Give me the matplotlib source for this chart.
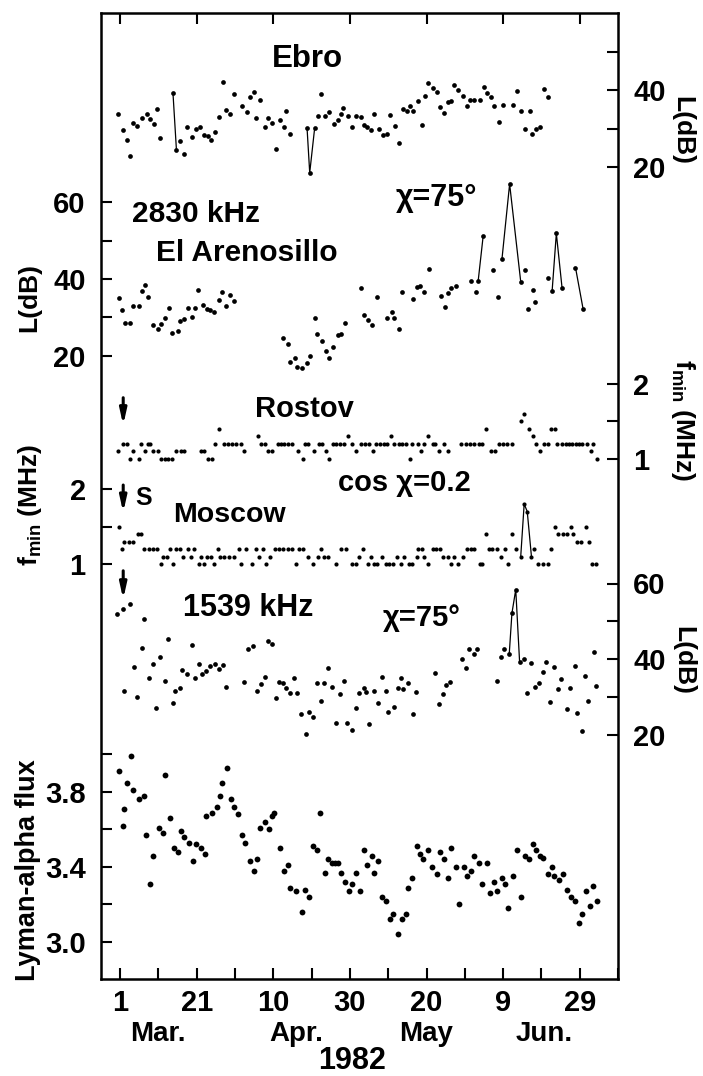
import matplotlib.pyplot as plt
from matplotlib.ticker import MultipleLocator

# days counted from 1 March 1982
ebro_day = [-0.6, 0.8, 1.7, 2.7, 3.4, 4.4, 5.6, 6.9, 7.9, 8.8,
            9.7, 10.5, 13.8, 14.7, 15.6, 16.6, 17.5, 18.8, 19.9, 20.8,
            22.0, 23.0, 23.8, 24.7, 25.7, 26.9, 27.7, 28.8, 29.7, 31.8,
            33.0, 33.8, 34.9, 35.6, 36.6, 37.7, 38.6, 39.7, 40.8, 41.7,
            42.7, 43.4, 44.4, 48.8, 49.5, 50.8, 51.6, 52.5, 53.6, 54.6,
            55.9, 56.8, 57.7, 58.3, 59.5, 60.5, 61.7, 62.9, 63.6, 64.4,
            65.5, 66.4, 67.5, 68.6, 69.7, 70.5, 71.7, 72.7, 73.8, 74.9,
            75.7, 76.6, 77.7, 78.8, 79.5, 80.5, 81.7, 82.7, 83.6, 84.6,
            85.5, 86.3, 87.2, 88.3, 89.5, 90.5, 91.4, 92.4, 94.0, 94.9,
            95.9, 96.8, 97.7, 98.8, 99.9, 102.7, 103.7, 104.6, 105.7, 106.9,
            107.5, 108.6, 109.7, 110.7, 111.8]
ebro_db = [33.7, 29.6, 27.0, 22.9, 31.5, 30.6, 32.6, 33.7, 32.5, 31.1,
           35.0, 27.6, 39.1, 24.4, 26.8, 23.3, 30.5, 27.9, 30.0, 30.5,
           28.3, 28.1, 27.0, 29.0, 32.9, 42.2, 34.8, 33.7, 38.9, 35.8,
           34.2, 38.1, 39.4, 32.7, 37.4, 30.5, 32.7, 31.3, 24.7, 32.2,
           30.5, 34.6, 28.7, 30.2, 18.5, 30.2, 33.2, 39.0, 33.3, 34.2,
           31.1, 32.2, 33.7, 35.4, 33.3, 30.5, 33.3, 33.1, 30.9, 30.5,
           29.6, 33.8, 30.0, 28.3, 28.5, 33.5, 30.6, 26.3, 35.0, 34.6,
           35.8, 34.5, 37.2, 30.9, 38.5, 41.7, 40.4, 39.6, 35.5, 33.9,
           37.0, 37.1, 41.3, 40.0, 38.4, 35.8, 37.4, 37.4, 37.4, 40.7,
           39.1, 38.1, 35.9, 31.8, 36.1, 36.1, 39.8, 34.6, 29.8, 34.6,
           28.7, 30.0, 30.3, 40.2, 38.3]
ebro_links = [(13.8, 14.7), (48.8, 50.8)]

aren_day = [-0.3, 0.6, 1.3, 2.6, 3.3, 4.8, 5.7, 6.5, 7.4, 8.7,
            9.8, 10.7, 11.6, 12.8, 13.5, 15.0, 15.7, 16.8, 17.7, 18.7,
            19.6, 20.4, 21.6, 22.6, 23.5, 24.5, 25.7, 26.5, 27.7, 28.7, 29.6,
            42.4, 43.7, 44.3, 45.7, 46.3, 47.4, 48.7, 49.7, 50.9, 51.5,
            52.6, 53.7, 54.5, 55.7, 56.8, 57.7, 58.7, 62.9, 63.7, 64.8,
            65.8, 67.0, 69.8, 70.9, 71.6, 72.8, 73.7, 76.5, 77.4, 78.3,
            79.4, 80.7, 83.7, 84.8, 85.7, 86.5, 87.8, 91.7, 92.9, 93.5,
            94.8, 97.4, 98.7, 99.7, 101.7, 104.6, 105.8, 106.5, 107.8, 108.4,
            111.7, 112.8, 113.9, 115.4, 118.9, 120.9]
aren_db = [35.0, 31.9, 28.6, 28.6, 33.0, 33.0, 36.9, 38.4, 35.4, 28.0,
           26.9, 28.3, 29.7, 32.3, 25.8, 26.3, 29.1, 29.5, 32.3, 30.0,
           32.3, 37.1, 33.2, 32.1, 31.9, 31.5, 34.5, 36.7, 33.0, 35.8, 34.3,
           24.5, 23.0, 18.2, 19.3, 17.0, 16.7, 18.0, 19.9, 29.7, 25.6,
           23.7, 21.2, 19.5, 22.2, 25.5, 25.7, 28.4, 37.7, 30.6, 29.3,
           28.0, 35.2, 29.9, 31.5, 29.7, 27.0, 36.7, 34.7, 38.0, 38.2,
           36.7, 42.7, 35.6, 32.6, 36.3, 37.6, 38.2, 39.6, 36.7, 39.6,
           51.3, 42.3, 35.2, 45.2, 64.8, 39.3, 42.3, 32.1, 37.0, 33.9,
           40.3, 36.9, 51.9, 37.6, 43.0, 32.1]
aren_links = [(93.5, 94.8), (99.7, 104.6), (112.8, 115.4), (118.9, 120.9)]

rost_day = [-0.6, 0.7, 1.7, 2.7, 3.3, 4.9, 5.5, 6.5, 7.2, 7.9,
            8.7, 9.8, 10.7, 11.6, 12.4, 13.6, 14.6, 15.9, 16.8, 21.1,
            22.0, 22.9, 24.0, 24.8, 25.7, 27.0, 28.1, 29.1, 30.3, 31.6,
            32.4, 35.9, 36.8, 37.7, 38.7, 39.7, 41.1, 42.0, 42.9, 43.9,
            45.0, 46.5, 47.7, 48.3, 49.1, 50.5, 52.0, 52.7, 53.7, 54.6,
            55.5, 56.3, 57.4, 58.5, 59.4, 60.5, 61.6, 62.9, 64.0, 65.0,
            65.9, 66.8, 67.9, 69.0, 69.8, 70.7, 71.6, 72.9, 73.7, 74.6,
            75.7, 76.3, 77.7, 78.5, 79.4, 80.5, 81.6, 82.3, 83.3, 84.6,
            85.5, 89.0, 90.3, 91.3, 92.4, 93.7, 94.6, 95.5, 96.8, 97.9,
            99.0, 100.0, 101.1, 102.4, 104.6, 105.5, 106.8, 107.7, 108.5, 109.7,
            110.7, 111.6, 112.4, 113.6, 114.2, 115.5, 116.3, 117.2, 118.1, 119.0,
            119.8, 120.7, 122.0, 122.9, 123.5, 124.6]
rost_f = [1.1, 1.2, 1.2, 1.0, 1.1, 1.0, 1.2, 1.1, 1.2, 1.2,
          1.1, 1.1, 1.0, 1.0, 1.0, 1.0, 1.1, 1.1, 1.1, 1.1,
          1.1, 1.0, 1.0, 1.2, 1.4, 1.2, 1.2, 1.2, 1.2, 1.2,
          1.1, 1.3, 1.2, 1.2, 1.1, 1.1, 1.2, 1.2, 1.2, 1.2,
          1.2, 1.1, 1.0, 1.2, 1.2, 1.1, 1.2, 1.2, 1.1, 1.0,
          1.2, 1.2, 1.2, 1.2, 1.3, 1.2, 1.1, 1.2, 1.2, 1.2,
          1.1, 1.2, 1.2, 1.2, 1.2, 1.3, 1.2, 1.2, 1.2, 1.2,
          1.0, 1.2, 1.2, 1.1, 1.2, 1.3, 1.2, 1.2, 1.1, 1.2,
          1.1, 1.2, 1.2, 1.2, 1.2, 1.2, 1.2, 1.4, 1.1, 1.1,
          1.2, 1.2, 1.2, 1.2, 1.5, 1.6, 1.4, 1.3, 1.2, 1.1,
          1.2, 1.2, 1.4, 1.4, 1.2, 1.2, 1.2, 1.2, 1.2, 1.2,
          1.2, 1.2, 1.2, 1.1, 1.2, 1.0]

mosc_day = [-0.2, 0.5, 1.1, 2.3, 3.3, 4.6, 5.5, 6.3, 7.5, 8.5,
            9.6, 10.7, 11.1, 12.3, 12.9, 13.7, 14.6, 15.5, 16.3, 17.7,
            18.5, 19.4, 20.5, 21.1, 22.0, 22.7, 23.7, 24.6, 25.5, 26.1,
            27.2, 28.5, 29.8, 31.1, 31.6, 32.9, 34.3, 35.5, 36.3, 37.2,
            38.1, 39.1, 40.4, 41.6, 42.6, 43.7, 45.0, 45.9, 46.8, 47.8,
            49.1, 50.3, 51.6, 52.4, 53.3, 54.4, 56.3, 57.7, 59.0, 60.5,
            61.6, 62.3, 63.3, 64.6, 65.5, 66.3, 67.2, 68.5, 69.4, 70.3,
            71.3, 72.3, 73.3, 74.2, 75.3, 76.3, 77.4, 77.9, 78.8, 79.4,
            80.5, 81.6, 82.6, 83.5, 84.2, 85.5, 86.3, 87.2, 88.1, 89.4,
            90.7, 91.6, 92.4, 94.0, 94.6, 95.5, 96.3, 97.2, 98.3, 99.4,
            100.4, 101.4, 102.4, 103.3, 104.6, 105.5, 106.3, 107.4, 108.1, 109.2,
            110.3, 111.6, 112.6, 113.6, 114.4, 115.7, 116.8, 117.7, 118.3, 119.4,
            120.4, 121.6, 122.3, 123.3, 124.3]
mosc_f = [1.5, 1.2, 1.3, 1.3, 1.3, 1.4, 1.4, 1.2, 1.2, 1.2,
          1.2, 1.0, 1.1, 1.1, 1.2, 1.0, 1.2, 1.2, 1.1, 1.2,
          1.1, 1.2, 1.0, 1.1, 1.0, 1.1, 1.1, 1.0, 1.2, 1.1,
          1.1, 1.1, 1.1, 1.2, 1.0, 1.2, 1.0, 1.2, 1.1, 1.2,
          1.0, 1.1, 1.2, 1.2, 1.2, 1.2, 1.2, 1.0, 1.2, 1.2,
          1.1, 1.0, 1.1, 1.2, 1.1, 1.1, 1.0, 1.2, 1.2, 1.0,
          1.0, 1.1, 1.2, 1.0, 1.1, 1.0, 1.0, 1.1, 1.0, 1.0,
          1.0, 1.1, 1.0, 1.1, 1.0, 1.0, 1.1, 1.2, 1.2, 1.1,
          1.0, 1.2, 1.2, 1.2, 1.1, 1.1, 1.0, 1.1, 1.0, 1.1,
          1.2, 1.2, 1.2, 1.0, 1.0, 1.4, 1.2, 1.2, 1.2, 1.1,
          1.2, 1.0, 1.4, 1.2, 1.1, 1.8, 1.7, 1.1, 1.2, 1.0,
          1.0, 1.0, 1.2, 1.5, 1.4, 1.4, 1.4, 1.5, 1.4, 1.3,
          1.3, 1.5, 1.3, 1.0, 1.0]
mosc_links = [(104.6, 107.4)]

k1539_day = [-0.7, 0.7, 1.1, 2.6, 3.5, 4.5, 5.7, 6.3, 7.6, 8.5,
             9.4, 10.4, 11.7, 12.4, 13.7, 14.3, 15.7, 16.1, 17.4, 18.7,
             19.6, 20.6, 21.3, 22.4, 23.5, 24.8, 25.7, 26.8, 27.7, 32.3,
             33.5, 34.6, 35.7, 36.7, 37.7, 38.5, 39.6, 40.7, 41.5, 42.4,
             43.3, 44.3, 45.5, 46.3, 47.2, 48.4, 49.4, 50.4, 51.3, 52.4,
             53.2, 54.3, 55.2, 56.3, 57.4, 58.5, 59.3, 60.6, 61.5, 62.4,
             63.7, 64.2, 65.0, 66.3, 67.4, 68.3, 69.3, 70.0, 71.6, 72.6,
             73.3, 73.9, 75.2, 76.5, 77.2, 82.3, 83.3, 84.3, 85.0, 86.1,
             89.3, 90.4, 91.1, 92.3, 93.3, 98.4, 99.4, 100.3, 101.6, 102.3,
             103.3, 104.3, 105.5, 106.3, 107.4, 108.3, 109.4, 110.4, 111.1, 112.3,
             113.2, 114.3, 115.2, 116.7, 117.4, 118.7, 119.3, 120.6, 121.5, 122.2,
             123.7, 124.3]
k1539_db = [51.8, 53.2, 31.4, 54.5, 38.0, 30.0, 43.0, 50.5, 34.9, 38.6,
            26.9, 40.4, 34.3, 45.2, 28.4, 31.4, 32.4, 37.1, 36.0, 43.7,
            34.9, 38.6, 35.9, 36.9, 38.1, 38.7, 37.3, 38.4, 32.7, 33.8,
            42.6, 43.5, 31.6, 33.4, 35.3, 44.9, 43.9, 29.8, 34.0, 33.7,
            32.2, 31.1, 34.9, 31.1, 25.3, 20.1, 25.9, 24.6, 33.6, 29.0,
            33.7, 37.5, 32.7, 23.1, 30.6, 34.3, 23.0, 21.2, 27.1, 31.1,
            32.2, 31.2, 22.7, 31.4, 28.4, 35.1, 31.6, 25.9, 27.4, 32.2,
            34.9, 32.1, 33.6, 25.3, 31.2, 36.2, 28.1, 30.6, 33.1, 34.0,
            39.9, 37.5, 42.6, 41.3, 42.6, 34.2, 40.6, 42.6, 41.3, 52.1,
            58.4, 39.3, 39.9, 30.9, 38.9, 32.7, 33.7, 36.6, 39.3, 28.5,
            38.0, 32.0, 34.6, 26.7, 32.4, 38.2, 25.6, 21.0, 35.5, 29.0,
            41.9, 32.9]
k1539_links = [(101.6, 104.3)]

lyman_day = [-0.3, 0.7, 1.0, 1.7, 2.8, 3.4, 4.9, 6.2, 6.8, 7.7,
             8.6, 10.2, 11.1, 11.8, 13.0, 14.0, 15.2, 15.9, 16.8, 18.1,
             19.0, 19.7, 21.0, 22.1, 22.4, 24.0, 25.3, 26.2, 26.6, 28.0,
             28.9, 29.8, 30.8, 31.8, 32.7, 33.9, 35.0, 35.7, 36.6, 37.7,
             38.8, 39.7, 40.3, 41.7, 42.8, 43.7, 44.3, 45.9, 47.6, 48.3,
             49.4, 50.3, 51.5, 52.3, 53.6, 54.4, 55.3, 56.2, 56.9, 57.6,
             58.6, 59.7, 60.5, 61.7, 62.6, 63.7, 64.5, 65.7, 66.3, 67.3,
             68.3, 69.4, 70.4, 71.3, 72.6, 73.7, 74.6, 75.1, 76.3, 77.4,
             78.3, 79.2, 80.3, 81.4, 82.7, 83.5, 84.6, 85.5, 86.5, 87.7,
             88.6, 89.7, 90.7, 91.7, 92.5, 93.6, 94.6, 95.9, 96.5, 97.6,
             98.4, 99.6, 100.5, 101.3, 102.6, 103.6, 104.6, 105.6, 106.7, 107.7,
             108.7, 109.7, 110.5, 111.8, 112.7, 113.4, 114.7, 115.7, 116.8, 117.7,
             118.7, 119.7, 120.5, 121.6, 122.7, 123.4, 124.4]
lyman_flux = [3.91, 3.62, 3.71, 3.85, 3.99, 3.81, 3.76, 3.78, 3.57, 3.31,
              3.46, 3.61, 3.58, 3.89, 3.66, 3.50, 3.48, 3.59, 3.56, 3.53,
              3.43, 3.52, 3.50, 3.47, 3.67, 3.69, 3.72, 3.78, 3.85, 3.93,
              3.76, 3.72, 3.68, 3.57, 3.53, 3.43, 3.38, 3.44, 3.61, 3.64,
              3.60, 3.67, 3.69, 3.50, 3.38, 3.41, 3.29, 3.27, 3.16, 3.28,
              3.24, 3.51, 3.49, 3.69, 3.37, 3.44, 3.42, 3.42, 3.42, 3.37,
              3.32, 3.27, 3.31, 3.37, 3.27, 3.49, 3.41, 3.46, 3.37, 3.43,
              3.24, 3.22, 3.12, 3.15, 3.04, 3.12, 3.15, 3.29, 3.34, 3.51,
              3.47, 3.44, 3.49, 3.40, 3.36, 3.48, 3.44, 3.34, 3.50, 3.40,
              3.20, 3.40, 3.35, 3.38, 3.46, 3.42, 3.31, 3.42, 3.26, 3.32,
              3.27, 3.34, 3.31, 3.18, 3.35, 3.49, 3.24, 3.46, 3.44, 3.52,
              3.49, 3.46, 3.45, 3.36, 3.40, 3.35, 3.33, 3.36, 3.28, 3.24,
              3.22, 3.10, 3.15, 3.27, 3.19, 3.30, 3.22]

date_ticks = [0, 20, 40, 60, 80, 100, 120]
date_labels = ['1', '21', '10', '30', '20', '9', '29']
months = [(10.4, 'Mar.'), (46.5, 'Apr.'), (80.4, 'May'), (111.2, 'Jun.')]

# ---- layout (pixels of the 703x1076 picture) ----
W_PX, H_PX = 703, 1076
TOP, BOT, LEFT, RIGHT = 13, 979, 101, 618

plt.rcParams['font.family'] = ['Liberation Sans', 'DejaVu Sans']
plt.rcParams['font.weight'] = 'bold'

fig = plt.figure(figsize=(7.03, 10.76), dpi=100)
rect = [LEFT / W_PX, 1 - BOT / H_PX, (RIGHT - LEFT) / W_PX, (BOT - TOP) / H_PX]


def ftext(x, y, s, size, **kw):
    fig.text(x / W_PX, 1 - y / H_PX, s, fontsize=size, ha='center', va='center', **kw)


ax = fig.add_axes(rect)
ax.set_xlim(-5, 130)
ax.set_ylim(0, 1)
ax.set_yticks([])
ax.set_xticks(date_ticks)
ax.set_xticklabels(date_labels)
ax.xaxis.set_minor_locator(MultipleLocator(10))
ax.tick_params(axis='x', which='both', direction='in', length=8, width=1.5,
               top=True, labelsize=21, pad=7)
ax.tick_params(axis='x', which='minor', top=False)
for s in ax.spines.values():
    s.set_linewidth(1.8)


def panel(side, ref, ref_px, px_per_unit, ticks, labels, minor):
    a = fig.add_axes(rect, sharex=ax, frameon=False)
    a.patch.set_visible(False)
    a.set_ylim(ref - (BOT - ref_px) / px_per_unit, ref + (ref_px - TOP) / px_per_unit)
    a.xaxis.set_visible(False)
    if side == 'right':
        a.yaxis.tick_right()
    else:
        a.yaxis.tick_left()
    a.set_yticks(ticks)
    a.set_yticklabels(labels)
    a.set_yticks(minor, minor=True)
    a.tick_params(axis='y', which='both', direction='in', length=8, width=1.5,
                  labelsize=21, pad=11)
    return a


def dots(a, days, vals, links, ms=3.4):
    a.plot(days, vals, 'o', ls='none', ms=ms, color='k', mec='none')
    for d0, d1 in links:
        sel = [i for i, d in enumerate(days) if d0 <= d <= d1]
        a.plot([days[i] for i in sel], [vals[i] for i in sel], color='k', lw=0.9)


a_ebro = panel('right', 40, 90, 3.85, [20, 40], ['20', '40'], [30, 50])
dots(a_ebro, ebro_day, ebro_db, ebro_links)

a_aren = panel('left', 40, 279, 3.83, [20, 40, 60], ['20', '40', '60'], [30, 50])
dots(a_aren, aren_day, aren_db, aren_links)

a_rost = panel('right', 1.0, 458.7, 75, [1, 2], ['1', '2'], [1.5])
dots(a_rost, rost_day, rost_f, [], ms=3.0)

a_mosc = panel('left', 1.0, 564, 75, [1, 2], ['1', '2'], [1.5])
dots(a_mosc, mosc_day, mosc_f, mosc_links, ms=3.0)

a_k = panel('right', 40, 659, 3.775, [20, 40, 60], ['20', '40', '60'], [30, 50])
dots(a_k, k1539_day, k1539_db, k1539_links)

a_ly = panel('left', 3.4, 867, 187.5, [3.0, 3.4, 3.8], ['3.0', '3.4', '3.8'], [3.2, 3.6, 4.0])
dots(a_ly, lyman_day, lyman_flux, [], ms=4.2)

# sudden-event arrows
arrow = dict(arrowstyle='-|>,head_width=0.2,head_length=0.9', lw=2.2, color='k')
a_rost.annotate('', xy=(0.8, 1.41), xytext=(0.8, 1.85), arrowprops=arrow)
a_mosc.annotate('', xy=(0.8, 1.65), xytext=(0.8, 2.09), arrowprops=arrow)
a_k.annotate('', xy=(0.8, 55.1), xytext=(0.8, 64.1), arrowprops=arrow)

# panel annotations
ftext(307, 59, 'Ebro', 22.5)
ftext(196, 214, '2830 kHz', 21.5)
ftext(436, 198, 'χ=75°', 22)
ftext(247, 253, 'El Arenosillo', 21.5)
ftext(304, 409, 'Rostov', 21)
ftext(404, 483, 'cos χ=0.2', 21)
ftext(144, 498, 'S', 18)
ftext(229, 515, 'Moscow', 20.5)
ftext(248, 608, '1539 kHz', 22)
ftext(422, 618, 'χ=75°', 21)

# axis titles
ftext(29, 298, 'L(dB)', 19, rotation=90)
ftext(30, 505, r'$\mathregular{f_{min}}$ (MHz)', 19, rotation=90)
ftext(28, 870, 'Lyman-alpha flux', 19.5, rotation=90)
ftext(682, 130, 'L(dB)', 19, rotation=270)
ftext(683, 420, r'$\mathregular{f_{min}}$ (MHz)', 19, rotation=270)
ftext(683, 660, 'L(dB)', 19, rotation=270)

# month names and year
for day, name in months:
    ftext(118 + 3.83 * day, 1034, name, 20)
ftext(352, 1061, '1982', 22)

fig.savefig('out.png', dpi=100)
